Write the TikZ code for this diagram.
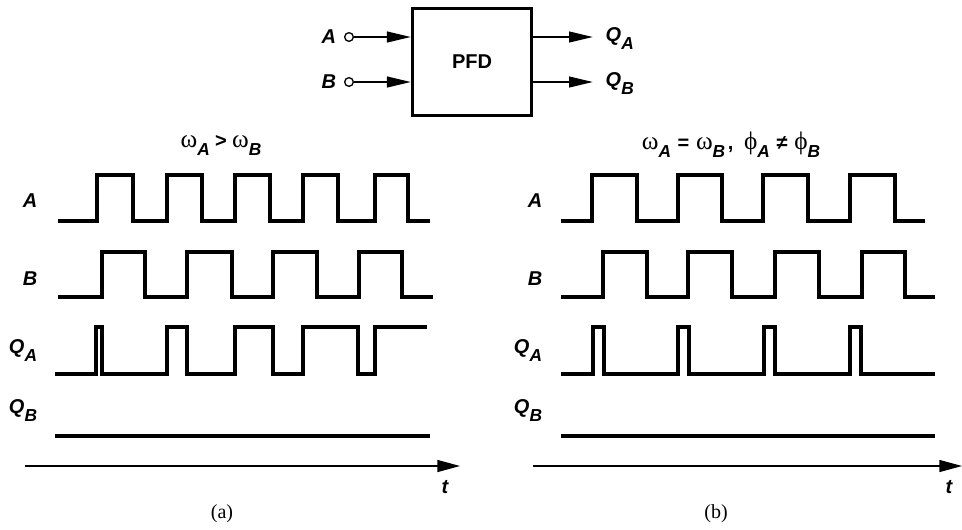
\documentclass[tikz,border=0pt]{standalone}
\usepackage{fontspec}
\setmainfont{Liberation Serif}
\setsansfont{Liberation Sans}
\usetikzlibrary{arrows.meta}
\newcommand{\subs}[1]{\raisebox{-6pt}{\fontsize{13}{14}\selectfont\sffamily\bfseries\itshape #1}}
\newcommand{\gk}[1]{{\fontsize{19}{22}\selectfont #1}}
\newcommand{\rel}[1]{{\fontsize{15}{17}\selectfont\sffamily\bfseries #1}}

\begin{document}
\begin{tikzpicture}[x=0.75pt, y=-0.75pt,
    wave/.style={line width=2.6pt, line join=miter},
    sig/.style={font=\fontsize{15}{18}\selectfont\sffamily\bfseries\itshape},
    pin/.style={circle, draw, line width=1pt, minimum size=6.5pt, inner sep=0pt},
    io/.style={line width=1.6pt, -{Triangle[length=18pt, width=8pt]}},
    taxis/.style={line width=1pt, -{Triangle[length=17pt, width=9pt]}}]
    \useasboundingbox (0,0) rectangle (962,529);

    % Bloque PFD con sus entradas y salidas
    \node[draw, line width=2.6pt, minimum width=89pt, minimum height=80pt, inner sep=0pt,
          font=\fontsize{15}{18}\selectfont\sffamily\bfseries] (pfd) at (472,62) {PFD};
    \node[pin] (inA) at (349,37) {};
    \node[pin] (inB) at (349,82) {};
    \node[sig, anchor=east] (labA) at (inA.west) {A\,};
    \node[sig, anchor=east] (labB) at (inB.west) {B\,};
    \coordinate (outA) at (593,37);
    \coordinate (outB) at (593,82);
    \draw[io] (inA) -- (pfd.west |- inA);
    \draw[io] (inB) -- (pfd.west |- inB);
    \draw[io] (pfd.east |- outA) -- (outA);
    \draw[io] (pfd.east |- outB) -- (outB);
    \node[sig, anchor=west] (labQA) at (601,39) {Q\subs{A}};
    \node[sig, anchor=west] (labQB) at (601,84) {Q\subs{B}};

    % (a) frecuencias distintas
    \node (titA) at (221,145) {\gk{ω}\subs{A}\hspace{4pt}\rel{>}\hspace{4pt}\gk{ω}\subs{B}};
    \node[sig] (wA1) at (30,201) {A};
    \node[sig] (wB1) at (30,279) {B};
    \node[sig] (wQA1) at (23,351) {Q\subs{A}};
    \node[sig] (wQB1) at (23,411) {Q\subs{B}};
    \draw[wave] (58,221) -| (97,175) -| (133,221) -| (167,175) -| (202,221) -| (235,175)
        -| (270,221) -| (303,175) -| (338,221) -| (375,175) -| (408,221) -- (430,221);
    \draw[wave] (58,297) -| (102,252) -| (145,297) -| (187,252) -| (232,297) -| (273,252)
        -| (317,297) -| (359,252) -| (402,297) -- (433,297);
    \draw[wave] (55,374) -| (96,327) -| (102,374) -| (167,327) -| (187,374) -| (235,327)
        -| (273,374) -| (303,327) -| (358,374) -| (375,327) -- (427,327);
    \draw[wave] (55,436) -- (430,436);
    \coordinate (t0a) at (25,466);
    \coordinate (t1a) at (460,466);
    \draw[taxis] (t0a) -- (t1a);
    \node[sig] (ta) at (445,487) {t};
    \node[font=\fontsize{15}{17}\selectfont] (capA) at (222,514) {(a)};

    % (b) misma frecuencia, fase distinta
    \node (titB) at (731,145) {\gk{ω}\subs{A}\hspace{5pt}\rel{=}\hspace{5pt}\gk{ω}\subs{B}\hspace{2pt}\rel{,}\hspace{8pt}%
        \gk{ϕ}\subs{A}\hspace{5pt}\rel{≠}\hspace{5pt}\gk{ϕ}\subs{B}};
    \node[sig] (wA2) at (535,201) {A};
    \node[sig] (wB2) at (535,279) {B};
    \node[sig] (wQA2) at (528,351) {Q\subs{A}};
    \node[sig] (wQB2) at (528,411) {Q\subs{B}};
    \draw[wave] (561,221) -| (592,175) -| (637,221) -| (678,175) -| (722,221) -| (763,175)
        -| (808,221) -| (850,175) -| (895,221) -- (925,221);
    \draw[wave] (561,297) -| (603,252) -| (647,297) -| (688,252) -| (732,297) -| (775,252)
        -| (819,297) -| (862,252) -| (905,297) -- (935,297);
    \draw[wave] (561,374) -| (593,327) -| (604,374) -| (678,327) -| (689,374) -| (764,327)
        -| (775,374) -| (850,327) -| (861,374) -- (935,374);
    \draw[wave] (561,436) -- (935,436);
    \coordinate (t0b) at (533,466);
    \coordinate (t1b) at (962,466);
    \draw[taxis] (t0b) -- (t1b);
    \node[sig] (tb) at (949,487) {t};
    \node[font=\fontsize{15}{17}\selectfont] (capB) at (716,514) {(b)};
\end{tikzpicture}
\end{document}
